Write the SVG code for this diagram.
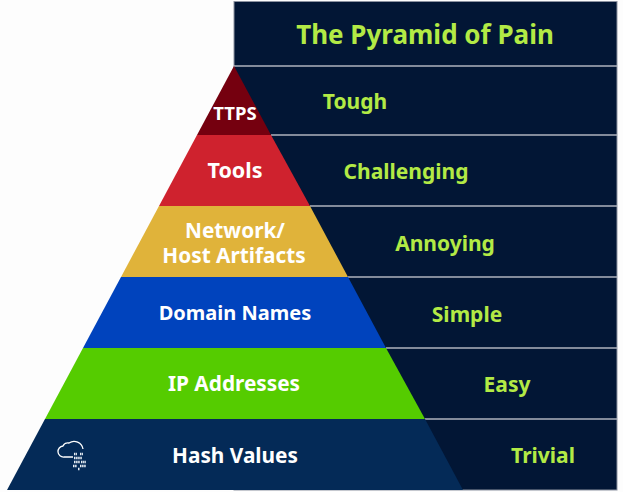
<svg xmlns="http://www.w3.org/2000/svg" width="623" height="492" viewBox="0 0 623 492">
<defs><style>
text{font-family:"Noto Sans","Open Sans","DejaVu Sans",sans-serif;font-weight:700;text-anchor:middle}
.g{fill:#b3ea45}.w{fill:#fff;font-size:20.800px}.l{font-size:21px}
.r{stroke:#aeb2bd;stroke-width:1.300;fill:none}
</style></defs>
<rect width="623" height="492" fill="#fdfdfd"/>
<g id="panel"><rect x="234" y="1.500" width="383" height="488.500" fill="#021635" stroke="#8d93a1" stroke-width="1"/></g>
<g id="connectors">
<path class="r" d="M234 66H617M271 135H617M310 206H617M348 277H617M386 348H617M425 419H617"/>
</g>
<g id="title"><text class="g" x="425" y="44" font-size="26">The Pyramid of Pain</text></g>
<g id="ttps"><polygon points="234,66 271,135 197,135" fill="#75000f"/><text class="w" x="235" y="120" style="font-size:18.500px">TTPS</text></g>
<g id="tools"><polygon points="197,135 271,135 310,206 159,206" fill="#cf222e"/><text class="w" x="235" y="178" style="font-size:21.500px">Tools</text></g>
<g id="artifacts"><polygon points="159,206 310,206 348,277 121,277" fill="#e0b33a"/><text class="w"><tspan x="235" y="238">Network/</tspan><tspan x="234" y="263">Host Artifacts</tspan></text></g>
<g id="domain"><polygon points="121,277 348,277 386,348 83,348" fill="#0043bd"/><text class="w" x="235" y="320" style="font-size:20px">Domain Names</text></g>
<g id="ip"><polygon points="83,348 386,348 425,419 45,419" fill="#55cc00"/><text class="w" x="234" y="391">IP Addresses</text></g>
<g id="hash"><polygon points="45,419 425,419 463,490 7,490" fill="#042a57"/><text class="w" x="235" y="463">Hash Values</text>
<path d="M68 457H64a5 5 0 0 1-1-11 5 5 0 0 1 6-3 9 9 0 0 1 14 6M68 457h5" fill="none" stroke="#fff" stroke-width="1.300"/>
<path d="M74 454h3M80 454h3M74 458h8M74 462h6M81 462h5M73 466h4M80 466h6M78 469h2" stroke="#e8eef5" stroke-width="2.500" stroke-dasharray="1.500 .6" fill="none"/></g>
<g id="difficulty">
<text class="g l" x="355" y="109">Tough</text>
<text class="g l" x="406" y="179">Challenging</text>
<text class="g l" x="445" y="251">Annoying</text>
<text class="g l" x="467" y="322">Simple</text>
<text class="g l" x="507" y="392">Easy</text>
<text class="g l" x="543" y="463">Trivial</text>
</g>
</svg>
